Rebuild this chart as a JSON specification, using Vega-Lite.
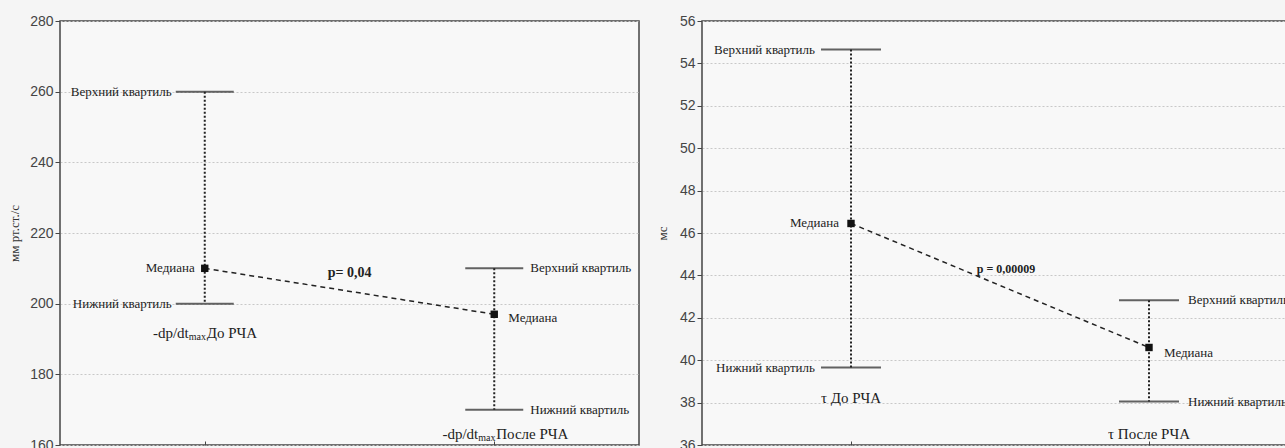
{
  "$schema": "https://vega.github.io/schema/vega-lite/v6.json",
  "background": "#f5f5f5",
  "padding": {"left": 7, "top": 13, "right": 0, "bottom": 0},
  "spacing": 15,
  "datasets": {
    "left": [
      {"cat": 1, "lower": 200, "median": 210, "upper": 260, "name": "До РЧА", "nameY": 191.7},
      {"cat": 2, "lower": 170, "median": 197, "upper": 210, "name": "После РЧА", "nameY": 163.1}
    ],
    "right": [
      {"cat": 1, "lower": 39.65, "median": 46.45, "upper": 54.65, "name": "τ До РЧА", "nameY": 38.2},
      {"cat": 2, "lower": 38.05, "median": 40.6, "upper": 42.83, "name": "τ После РЧА", "nameY": 36.5}
    ],
    "pleft": [{"x": 1.5, "y": 208.7, "text": "p= 0,04"}],
    "pright": [{"x": 1.52, "y": 44.3, "text": "p = 0,00009"}]
  },
  "config": {
    "view": {"stroke": "#444", "strokeWidth": 1.5, "fill": "#f8f8f8"},
    "axis": {
      "labelFont": "Liberation Sans", "labelFontSize": 14, "labelColor": "#444",
      "titleFont": "Liberation Serif", "titleFontSize": 13, "titleFontWeight": "normal", "titleColor": "#333",
      "tickColor": "#444", "domain": false
    },
    "text": {"font": "Liberation Serif", "fontSize": 13, "color": "#222"}
  },
  "hconcat": [
    {
      "width": 579, "height": 424,
      "data": {"name": "left"},
      "encoding": {
        "x": {"field": "cat", "type": "quantitative", "scale": {"domain": [0.5, 2.5], "nice": false},
              "axis": {"values": [1, 2], "labels": false, "title": null, "grid": false, "tickSize": -4}}
      },
      "layer": [
        {"mark": {"type": "rule", "strokeDash": [2, 2], "strokeWidth": 2, "color": "#222"},
         "encoding": {"y": {"field": "upper", "type": "quantitative",
            "scale": {"domain": [160, 280], "nice": false},
            "axis": {"values": [160, 180, 200, 220, 240, 260, 280], "title": "мм рт.ст./с", "titlePadding": 8, "labelPadding": 2, "tickSize": 5,
                     "grid": true, "gridColor": "#c8c8c8", "gridDash": [2, 2]}},
            "y2": {"field": "lower"}}},
        {"mark": {"type": "tick", "orient": "horizontal", "size": 58, "thickness": 2, "color": "#222"},
         "encoding": {"y": {"field": "upper", "type": "quantitative"}}},
        {"mark": {"type": "tick", "orient": "horizontal", "size": 58, "thickness": 2, "color": "#222"},
         "encoding": {"y": {"field": "lower", "type": "quantitative"}}},
        {"mark": {"type": "line", "strokeDash": [5, 4], "strokeWidth": 1.5, "color": "#222"},
         "encoding": {"y": {"field": "median", "type": "quantitative"}}},
        {"mark": {"type": "point", "shape": "square", "size": 55, "filled": true, "color": "#111", "opacity": 1},
         "encoding": {"y": {"field": "median", "type": "quantitative"}}},
        {"transform": [{"filter": "datum.cat == 1"}],
         "mark": {"type": "text", "align": "right", "dx": -33},
         "encoding": {"y": {"field": "upper", "type": "quantitative"}, "text": {"value": "Верхний квартиль"}}},
        {"transform": [{"filter": "datum.cat == 1"}],
         "mark": {"type": "text", "align": "right", "dx": -33},
         "encoding": {"y": {"field": "lower", "type": "quantitative"}, "text": {"value": "Нижний квартиль"}}},
        {"transform": [{"filter": "datum.cat == 1"}],
         "mark": {"type": "text", "align": "right", "dx": -10},
         "encoding": {"y": {"field": "median", "type": "quantitative"}, "text": {"value": "Медиана"}}},
        {"transform": [{"filter": "datum.cat == 2"}],
         "mark": {"type": "text", "align": "left", "dx": 36},
         "encoding": {"y": {"field": "upper", "type": "quantitative"}, "text": {"value": "Верхний квартиль"}}},
        {"transform": [{"filter": "datum.cat == 2"}],
         "mark": {"type": "text", "align": "left", "dx": 36},
         "encoding": {"y": {"field": "lower", "type": "quantitative"}, "text": {"value": "Нижний квартиль"}}},
        {"transform": [{"filter": "datum.cat == 2"}],
         "mark": {"type": "text", "align": "left", "dx": 14, "dy": 4},
         "encoding": {"y": {"field": "median", "type": "quantitative"}, "text": {"value": "Медиана"}}},
        {"mark": {"type": "text", "align": "right", "dx": -16, "fontSize": 15},
         "encoding": {"y": {"field": "nameY", "type": "quantitative"}, "text": {"value": "-dp/dt"}}},
        {"mark": {"type": "text", "align": "left", "dx": -16, "dy": 4, "fontSize": 10},
         "encoding": {"y": {"field": "nameY", "type": "quantitative"}, "text": {"value": "max"}}},
        {"mark": {"type": "text", "align": "left", "dx": 2, "fontSize": 15},
         "encoding": {"y": {"field": "nameY", "type": "quantitative"}, "text": {"field": "name"}}},
        {"data": {"name": "pleft"},
         "mark": {"type": "text", "fontWeight": "bold", "fontSize": 14},
         "encoding": {"x": {"field": "x", "type": "quantitative"}, "y": {"field": "y", "type": "quantitative"}, "text": {"field": "text"}}}
      ]
    },
    {
      "width": 596, "height": 424,
      "data": {"name": "right"},
      "encoding": {
        "x": {"field": "cat", "type": "quantitative", "scale": {"domain": [0.5, 2.5], "nice": false},
              "axis": {"values": [1, 2], "labels": false, "title": null, "grid": false, "tickSize": -4}}
      },
      "layer": [
        {"mark": {"type": "rule", "strokeDash": [2, 2], "strokeWidth": 2, "color": "#222"},
         "encoding": {"y": {"field": "upper", "type": "quantitative",
            "scale": {"domain": [36, 56], "nice": false},
            "axis": {"values": [36, 38, 40, 42, 44, 46, 48, 50, 52, 54, 56], "title": "мс", "titlePadding": 10, "labelPadding": 2, "tickSize": 5,
                     "grid": true, "gridColor": "#c8c8c8", "gridDash": [2, 2]}},
            "y2": {"field": "lower"}}},
        {"mark": {"type": "tick", "orient": "horizontal", "size": 60, "thickness": 2, "color": "#222"},
         "encoding": {"y": {"field": "upper", "type": "quantitative"}}},
        {"mark": {"type": "tick", "orient": "horizontal", "size": 60, "thickness": 2, "color": "#222"},
         "encoding": {"y": {"field": "lower", "type": "quantitative"}}},
        {"mark": {"type": "line", "strokeDash": [5, 4], "strokeWidth": 1.5, "color": "#222"},
         "encoding": {"y": {"field": "median", "type": "quantitative"}}},
        {"mark": {"type": "point", "shape": "square", "size": 55, "filled": true, "color": "#111", "opacity": 1},
         "encoding": {"y": {"field": "median", "type": "quantitative"}}},
        {"transform": [{"filter": "datum.cat == 1"}],
         "mark": {"type": "text", "align": "right", "dx": -36},
         "encoding": {"y": {"field": "upper", "type": "quantitative"}, "text": {"value": "Верхний квартиль"}}},
        {"transform": [{"filter": "datum.cat == 1"}],
         "mark": {"type": "text", "align": "right", "dx": -36},
         "encoding": {"y": {"field": "lower", "type": "quantitative"}, "text": {"value": "Нижний квартиль"}}},
        {"transform": [{"filter": "datum.cat == 1"}],
         "mark": {"type": "text", "align": "right", "dx": -12},
         "encoding": {"y": {"field": "median", "type": "quantitative"}, "text": {"value": "Медиана"}}},
        {"transform": [{"filter": "datum.cat == 2"}],
         "mark": {"type": "text", "align": "left", "dx": 39},
         "encoding": {"y": {"field": "upper", "type": "quantitative"}, "text": {"value": "Верхний квартиль"}}},
        {"transform": [{"filter": "datum.cat == 2"}],
         "mark": {"type": "text", "align": "left", "dx": 39},
         "encoding": {"y": {"field": "lower", "type": "quantitative"}, "text": {"value": "Нижний квартиль"}}},
        {"transform": [{"filter": "datum.cat == 2"}],
         "mark": {"type": "text", "align": "left", "dx": 15, "dy": 6},
         "encoding": {"y": {"field": "median", "type": "quantitative"}, "text": {"value": "Медиана"}}},
        {"mark": {"type": "text", "align": "center", "fontSize": 15},
         "encoding": {"y": {"field": "nameY", "type": "quantitative"}, "text": {"field": "name"}}},
        {"data": {"name": "pright"},
         "mark": {"type": "text", "fontWeight": "bold", "fontSize": 12},
         "encoding": {"x": {"field": "x", "type": "quantitative"}, "y": {"field": "y", "type": "quantitative"}, "text": {"field": "text"}}}
      ]
    }
  ]
}
